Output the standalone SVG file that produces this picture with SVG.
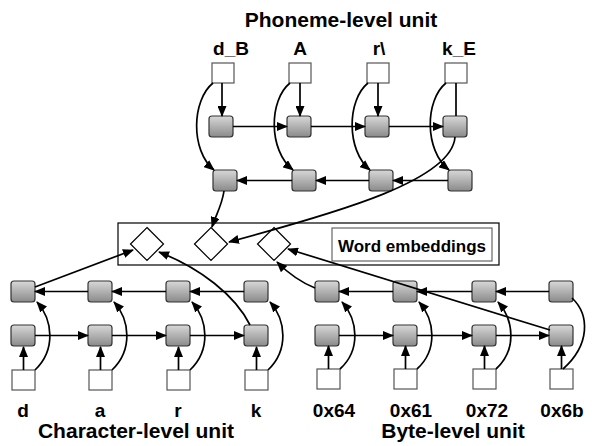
<svg xmlns="http://www.w3.org/2000/svg" width="592" height="446" viewBox="0 0 592 446">
<defs>
<linearGradient id="g" x1="0" y1="0" x2="0" y2="1">
<stop offset="0" stop-color="#d8d8d8"/>
<stop offset="1" stop-color="#8a8a8a"/>
</linearGradient>
<marker id="ah" markerUnits="userSpaceOnUse" markerWidth="11" markerHeight="9" refX="10" refY="4.5" orient="auto">
<path d="M0,0 L11,4.5 L0,9 z" fill="#000"/>
</marker>
</defs>
<style>
.cell{fill:url(#g);stroke:#333;stroke-width:1.2}
.inp{fill:#fff;stroke:#555;stroke-width:1.2}
.dia{fill:#fff;stroke:#000;stroke-width:1.2}
.c{fill:none;stroke:#000;stroke-width:1.7}
.a{marker-end:url(#ah)}
text{font-family:"Liberation Sans",Arial,sans-serif;font-weight:bold;fill:#000;text-anchor:middle}
.t{font-size:21px}
.l{font-size:19px}
.s{font-size:19px}
</style>
<rect width="592" height="446" fill="#fff"/>

<text class="t" x="341" y="27">Phoneme-level unit</text>
<text class="t" x="136" y="438">Character-level unit</text>
<text class="t" x="453" y="438">Byte-level unit</text>

<g id="phoneme">
<g id="p_in_dB"><rect class="inp" x="212" y="63" width="22" height="20"/><text class="l" x="231" y="55">d_B</text></g>
<g id="p_in_A"><rect class="inp" x="289" y="63" width="22" height="20"/><text class="l" x="300" y="55">A</text></g>
<g id="p_in_r"><rect class="inp" x="367" y="63" width="22" height="20"/><text class="l" x="379" y="55">r\</text></g>
<g id="p_in_kE"><rect class="inp" x="445" y="63" width="22" height="20"/><text class="l" x="459" y="55">k_E</text></g>
<g id="p_f1"><rect class="cell" x="209" y="116" width="24" height="21" rx="3"/></g>
<g id="p_f2"><rect class="cell" x="287" y="116" width="24" height="21" rx="3"/></g>
<g id="p_f3"><rect class="cell" x="365" y="116" width="24" height="21" rx="3"/></g>
<g id="p_f4"><rect class="cell" x="443" y="116" width="24" height="21" rx="3"/></g>
<g id="p_b1"><rect class="cell" x="213" y="170" width="24" height="21" rx="3"/></g>
<g id="p_b2"><rect class="cell" x="292" y="170" width="24" height="21" rx="3"/></g>
<g id="p_b3"><rect class="cell" x="369" y="170" width="24" height="21" rx="3"/></g>
<g id="p_b4"><rect class="cell" x="448" y="170" width="24" height="21" rx="3"/></g>
</g>

<g id="embeddings">
<rect x="118" y="223" width="381" height="42" fill="none" stroke="#000" stroke-width="1.2"/>
<g id="word_emb_label"><rect x="332" y="228" width="160" height="33" fill="#fff" stroke="#666" stroke-width="1.2"/><text x="412" y="252" style="font-size:17px">Word embeddings</text></g>
<g id="d1"><path class="dia" d="M147,227.5 L163.5,244 L147,260.5 L130.5,244 z"/></g>
<g id="d2"><path class="dia" d="M211,227.5 L227.5,244 L211,260.5 L194.5,244 z"/></g>
<g id="d3"><path class="dia" d="M274,227.5 L290.5,244 L274,260.5 L257.5,244 z"/></g>
</g>

<g id="character">
<g id="c_b1"><rect class="cell" x="11" y="281" width="24" height="21" rx="3"/></g>
<g id="c_b2"><rect class="cell" x="88" y="281" width="24" height="21" rx="3"/></g>
<g id="c_b3"><rect class="cell" x="166" y="281" width="24" height="21" rx="3"/></g>
<g id="c_b4"><rect class="cell" x="244" y="281" width="24" height="21" rx="3"/></g>
<g id="c_f1"><rect class="cell" x="11" y="325" width="24" height="21" rx="3"/></g>
<g id="c_f2"><rect class="cell" x="88" y="325" width="24" height="21" rx="3"/></g>
<g id="c_f3"><rect class="cell" x="166" y="325" width="24" height="21" rx="3"/></g>
<g id="c_f4"><rect class="cell" x="244" y="325" width="24" height="21" rx="3"/></g>
<g id="c_in_d"><rect class="inp" x="12" y="370" width="23" height="20"/><text class="s" x="23" y="417">d</text></g>
<g id="c_in_a"><rect class="inp" x="89" y="370" width="23" height="20"/><text class="s" x="100" y="417">a</text></g>
<g id="c_in_r"><rect class="inp" x="167" y="370" width="23" height="20"/><text class="s" x="178" y="417">r</text></g>
<g id="c_in_k"><rect class="inp" x="245" y="370" width="23" height="20"/><text class="s" x="256" y="417">k</text></g>
</g>

<g id="byte">
<g id="b_b1"><rect class="cell" x="315" y="281" width="24" height="21" rx="3"/></g>
<g id="b_b2"><rect class="cell" x="393" y="281" width="24" height="21" rx="3"/></g>
<g id="b_b3"><rect class="cell" x="472" y="281" width="24" height="21" rx="3"/></g>
<g id="b_b4"><rect class="cell" x="549" y="281" width="24" height="21" rx="3"/></g>
<g id="b_f1"><rect class="cell" x="315" y="325" width="24" height="21" rx="3"/></g>
<g id="b_f2"><rect class="cell" x="393" y="325" width="24" height="21" rx="3"/></g>
<g id="b_f3"><rect class="cell" x="472" y="325" width="24" height="21" rx="3"/></g>
<g id="b_f4"><rect class="cell" x="549" y="325" width="24" height="21" rx="3"/></g>
<g id="b_in_64"><rect class="inp" x="317" y="369" width="23" height="20"/><text class="s" x="334" y="417">0x64</text></g>
<g id="b_in_61"><rect class="inp" x="394" y="369" width="23" height="20"/><text class="s" x="411" y="417">0x61</text></g>
<g id="b_in_72"><rect class="inp" x="473" y="369" width="23" height="20"/><text class="s" x="487" y="417">0x72</text></g>
<g id="b_in_6b"><rect class="inp" x="550" y="369" width="23" height="20"/><text class="s" x="562" y="417">0x6b</text></g>
</g>

<g id="connectors">
<!-- phoneme -->
<path class="c a" d="M222,83 V116"/>
<path class="c a" d="M300,83 V116"/>
<path class="c a" d="M378,83 V116"/>
<path class="c" d="M456,83 V116"/>
<path class="c a" d="M233,126.5 H287"/>
<path class="c a" d="M311,126.5 H365"/>
<path class="c a" d="M389,126.5 H443"/>
<path class="c a" d="M448,180.5 H393"/>
<path class="c a" d="M369,180.5 H316"/>
<path class="c a" d="M292,180.5 H237"/>
<path class="c a" d="M213,83 C192,100 190,150 214,170"/>
<path class="c a" d="M290,83 C269,100 268,150 293,170"/>
<path class="c a" d="M368,83 C347,100 346,150 370,170"/>
<path class="c a" d="M446,83 C425,100 424,150 449,170"/>
<path class="c a" d="M455,137 C452,180 340,212 229,242"/>
<path class="c a" d="M224,191 C222,205 216,215 212,227"/>
<!-- character -->
<path class="c a" d="M23.5,370 V347"/>
<path class="c a" d="M100.5,370 V347"/>
<path class="c a" d="M178.5,370 V347"/>
<path class="c a" d="M256.5,370 V347"/>
<path class="c a" d="M35,335.5 H88"/>
<path class="c a" d="M112,335.5 H166"/>
<path class="c a" d="M190,335.5 H244"/>
<path class="c a" d="M244,291.5 H190"/>
<path class="c a" d="M166,291.5 H112"/>
<path class="c a" d="M88,291.5 H35"/>
<path class="c a" d="M35,370 C56,350 53,320 37,302"/>
<path class="c a" d="M112,370 C133,350 130,320 114,302"/>
<path class="c a" d="M190,370 C211,350 208,320 192,302"/>
<path class="c a" d="M268,370 C289,350 286,320 270,302"/>
<path class="c a" d="M35,287 L133,250"/>
<path class="c a" d="M250,325 C235,295 200,268 159,252"/>
<!-- byte -->
<path class="c a" d="M328.5,369 V346"/>
<path class="c a" d="M405.5,369 V346"/>
<path class="c a" d="M484.5,369 V346"/>
<path class="c a" d="M561.5,369 V346"/>
<path class="c a" d="M339,335.5 H393"/>
<path class="c a" d="M417,335.5 H472"/>
<path class="c a" d="M496,335.5 H549"/>
<path class="c a" d="M549,291.5 H496"/>
<path class="c a" d="M472,291.5 H417"/>
<path class="c a" d="M393,291.5 H339"/>
<path class="c a" d="M340,369 C361,350 358,320 342,302"/>
<path class="c a" d="M417,369 C438,350 435,320 419,302"/>
<path class="c a" d="M496,369 C517,350 514,320 498,302"/>
<path class="c" d="M563,369 C590,345 590,315 572,298"/>
<path class="c a" d="M315,288 C305,284 290,275 277,262"/>
<path class="c a" d="M550,330 L288,249"/>
</g>
</svg>
